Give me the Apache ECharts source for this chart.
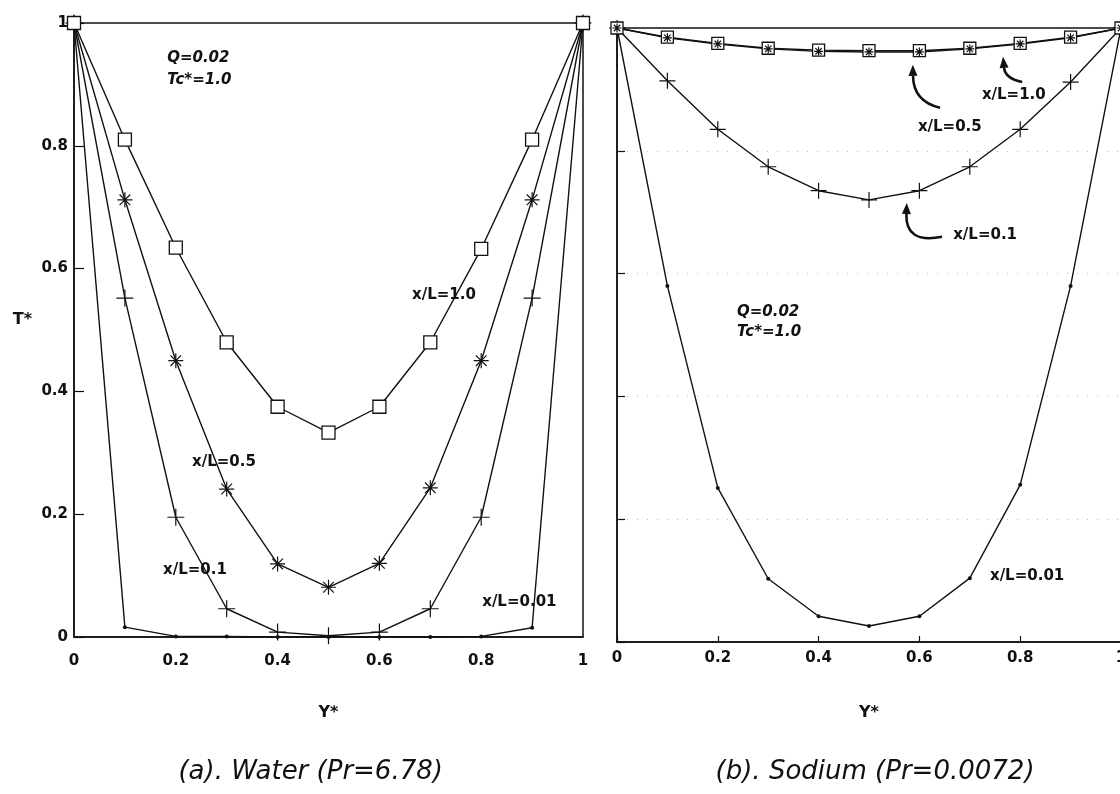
<!DOCTYPE html>
<html>
<head>
<meta charset="utf-8">
<script src="https://cdn.jsdelivr.net/npm/echarts@6/dist/echarts.min.js"></script>
<style>
  html, body { margin: 0; padding: 0; background: #fff; }
  #chart { width: 1120px; height: 794px; }
</style>
</head>
<body>
<div id="chart"></div>
<script>
// Dimensionless position across the channel (Y*)
const positions = [0, 0.1, 0.2, 0.3, 0.4, 0.5, 0.6, 0.7, 0.8, 0.9, 1.0];
const xTicks = [0, 0.2, 0.4, 0.6, 0.8, 1];

// (a) Water, Pr = 6.78 : dimensionless temperature T* at each axial station
const waterXL10  = [1, 0.810, 0.634, 0.480, 0.375, 0.333, 0.375, 0.480, 0.632, 0.810, 1];
const waterXL05  = [1, 0.712, 0.450, 0.241, 0.119, 0.081, 0.120, 0.243, 0.450, 0.712, 1];
const waterXL01  = [1, 0.552, 0.195, 0.046, 0.008, 0.002, 0.008, 0.046, 0.195, 0.552, 1];
const waterXL001 = [1, 0.016, 0.001, 0.001, 0.000, 0.000, 0.000, 0.000, 0.001, 0.015, 1];

// (b) Sodium, Pr = 0.0072
const sodiumXL10  = [1, 0.985, 0.975, 0.967, 0.964, 0.963, 0.963, 0.967, 0.975, 0.985, 1];
const sodiumXL05  = [1, 0.984, 0.974, 0.966, 0.962, 0.961, 0.961, 0.966, 0.974, 0.984, 1];
const sodiumXL01  = [1, 0.914, 0.835, 0.774, 0.735, 0.720, 0.735, 0.774, 0.835, 0.912, 1];
const sodiumXL001 = [1, 0.580, 0.251, 0.103, 0.042, 0.026, 0.042, 0.104, 0.256, 0.580, 1];

const pairs = (ys) => positions.map((x, i) => [x, ys[i]]);

const FONT = '"DejaVu Sans", "Liberation Sans", sans-serif';
const INK = '#111';

const SYM_PLUS = 'path://M0,-8L0,8M-8,0L8,0';
const SYM_STAR = 'path://M0,-8L0,8M-8,0L8,0M-5.7,-5.7L5.7,5.7M-5.7,5.7L5.7,-5.7';

function curve(grid, ys, kind, size) {
  const s = {
    type: 'line', xAxisIndex: grid, yAxisIndex: grid,
    data: pairs(ys), showSymbol: true, symbolSize: size,
    lineStyle: { color: INK, width: 1.4 },
    emphasis: { disabled: true }, silent: true, z: 3
  };
  if (kind === 'square') {
    s.symbol = 'rect';
    s.itemStyle = { color: '#fff', borderColor: INK, borderWidth: 1.3 };
  } else if (kind === 'star') {
    s.symbol = SYM_STAR;
    s.itemStyle = { color: INK, borderColor: INK, borderWidth: 1.2 };
  } else if (kind === 'plus') {
    s.symbol = SYM_PLUS;
    s.itemStyle = { color: INK, borderColor: INK, borderWidth: 1.2 };
  } else {
    s.symbol = 'circle';
    s.itemStyle = { color: INK, borderWidth: 0 };
  }
  return s;
}

// Curve labels and parameter notes, placed in data units of each panel
const notes = [
  { grid: 0, at: [0.183, 0.943], text: 'Q=0.02', italic: true },
  { grid: 0, at: [0.183, 0.907], text: 'Tc*=1.0', italic: true },
  { grid: 0, at: [0.664, 0.557], text: 'x/L=1.0' },
  { grid: 0, at: [0.232, 0.285], text: 'x/L=0.5' },
  { grid: 0, at: [0.175, 0.109], text: 'x/L=0.1' },
  { grid: 0, at: [0.802, 0.057], text: 'x/L=0.01' },
  { grid: 1, at: [0.238, 0.537], text: 'Q=0.02', italic: true },
  { grid: 1, at: [0.238, 0.505], text: 'Tc*=1.0', italic: true },
  { grid: 1, at: [0.724, 0.891], text: 'x/L=1.0' },
  { grid: 1, at: [0.597, 0.839], text: 'x/L=0.5' },
  { grid: 1, at: [0.667, 0.663], text: 'x/L=0.1' },
  { grid: 1, at: [0.740, 0.107], text: 'x/L=0.01' }
];

// Curved pointers from the labels to their curves (tail, control, head)
const pointers = [
  { grid: 1, tail: [0.804, 0.912], ctrl: [0.770, 0.918], head: [0.766, 0.953] },
  { grid: 1, tail: [0.641, 0.870], ctrl: [0.588, 0.880], head: [0.587, 0.940] },
  { grid: 1, tail: [0.645, 0.660], ctrl: [0.572, 0.648], head: [0.575, 0.715] }
];

const chart = echarts.init(document.getElementById('chart'), null, { renderer: 'canvas' });

const tickLabel = { fontFamily: FONT, fontWeight: 'bold', fontSize: 15, color: INK };
const fmtTick = (v) => String(xTicks.find(t => Math.abs(t - v) < 1e-9) ?? v);

const option = {
  animation: false,
  backgroundColor: '#fff',
  grid: [
    { left: 74, top: 23, width: 509, height: 614, outerBoundsMode: 'none', containLabel: false,
      show: true, borderColor: INK, borderWidth: 1.5, backgroundColor: 'transparent' },
    { left: 617, top: 28, width: 504, height: 614, outerBoundsMode: 'none', containLabel: false,
      show: true, borderColor: INK, borderWidth: 1.5, backgroundColor: 'transparent' }
  ],
  xAxis: [
    {
      gridIndex: 0, type: 'value', min: 0, max: 1, interval: 0.2,
      name: 'Y*', nameLocation: 'middle', nameGap: 68,
      nameTextStyle: { fontFamily: FONT, fontSize: 16, fontWeight: 'bold', color: INK },
      axisLine: { show: true, lineStyle: { color: INK, width: 1.5 } },
      axisTick: { show: false },
      axisLabel: Object.assign({ margin: 17, formatter: fmtTick }, tickLabel),
      splitLine: { show: false }
    },
    {
      gridIndex: 1, type: 'value', min: 0, max: 1, interval: 0.2,
      name: 'Y*', nameLocation: 'middle', nameGap: 63,
      nameTextStyle: { fontFamily: FONT, fontSize: 16, fontWeight: 'bold', color: INK },
      axisLine: { show: true, lineStyle: { color: INK, width: 1.5 } },
      axisTick: { show: true, inside: true, length: 6, lineStyle: { color: INK, width: 1.2 } },
      axisLabel: Object.assign({ margin: 9, formatter: fmtTick }, tickLabel),
      splitLine: { show: false }
    }
  ],
  yAxis: [
    {
      gridIndex: 0, type: 'value', min: 0, max: 1, interval: 0.2,
      axisLine: { show: true, lineStyle: { color: INK, width: 1.5 } },
      axisTick: { show: true, inside: true, length: 10, lineStyle: { color: INK, width: 1.2 } },
      axisLabel: Object.assign({ margin: 6 }, tickLabel),
      splitLine: { show: false }
    },
    {
      gridIndex: 1, type: 'value', min: 0, max: 1, interval: 0.2,
      axisLine: { show: true, lineStyle: { color: INK, width: 1.5 } },
      axisTick: { show: true, inside: true, length: 8, lineStyle: { color: INK, width: 1.2 } },
      axisLabel: { show: false },
      splitLine: {
        show: true, showMinLine: false, showMaxLine: false,
        lineStyle: { color: '#bdbdbd', width: 1, type: [1, 9] }
      }
    }
  ],
  series: [
    curve(0, waterXL001, 'dot', 4),
    curve(0, waterXL01, 'plus', 17),
    curve(0, waterXL05, 'star', 15),
    curve(0, waterXL10, 'square', 13),
    curve(1, sodiumXL001, 'dot', 4),
    curve(1, sodiumXL01, 'plus', 16),
    curve(1, sodiumXL10, 'square', 12),
    curve(1, sodiumXL05, 'star', 9)
  ]
};

chart.setOption(option);

// Overlay texts, pointers and panel captions once the scales are known
function px(grid, p) {
  return chart.convertToPixel({ gridIndex: grid }, p);
}

const graphics = [];

// Vertical axis title of panel (a)
const tAnchor = px(0, [0, 0.516]);
graphics.push({
  type: 'text', silent: true, z: 10,
  style: {
    text: 'T*', x: tAnchor[0] - 42, y: tAnchor[1],
    font: 'bold 16px ' + FONT, fill: INK, textAlign: 'right', textVerticalAlign: 'middle'
  }
});

notes.forEach((n) => {
  const [x, y] = px(n.grid, n.at);
  graphics.push({
    type: 'text', silent: true, z: 10,
    style: {
      text: n.text, x: x, y: y,
      font: (n.italic ? 'italic ' : '') + 'bold 15px ' + FONT,
      fill: INK, textAlign: 'left', textVerticalAlign: 'middle'
    }
  });
});

pointers.forEach((a) => {
  const t = px(a.grid, a.tail), c = px(a.grid, a.ctrl), h = px(a.grid, a.head);
  const dx = h[0] - c[0], dy = h[1] - c[1];
  const len = Math.hypot(dx, dy) || 1;
  const ux = dx / len, uy = dy / len;
  const L = 11, W = 4.5;
  const bx = h[0] - ux * L, by = h[1] - uy * L;
  graphics.push({
    type: 'bezierCurve', silent: true, z: 10,
    shape: { x1: t[0], y1: t[1], cpx1: c[0], cpy1: c[1], x2: bx, y2: by },
    style: { stroke: INK, lineWidth: 2.6, fill: 'none' }
  });
  graphics.push({
    type: 'polygon', silent: true, z: 10,
    shape: { points: [[h[0], h[1]], [bx - uy * W, by + ux * W], [bx + uy * W, by - ux * W]] },
    style: { fill: INK }
  });
});

// Panel captions, centred a little off each panel's middle
const captions = [
  { grid: 0, at: 0.465, text: '(a). Water (Pr=6.78)' },
  { grid: 1, at: 0.512, text: '(b). Sodium (Pr=0.0072)' }
];
captions.forEach((cap) => {
  const p = px(cap.grid, [cap.at, 0]);
  graphics.push({
    type: 'text', silent: true, z: 10,
    style: {
      text: cap.text, x: p[0], y: 772,
      font: 'italic 26px ' + FONT, fill: INK,
      textAlign: 'center', textVerticalAlign: 'middle'
    }
  });
});

chart.setOption({ graphic: graphics });
</script>
</body>
</html>
